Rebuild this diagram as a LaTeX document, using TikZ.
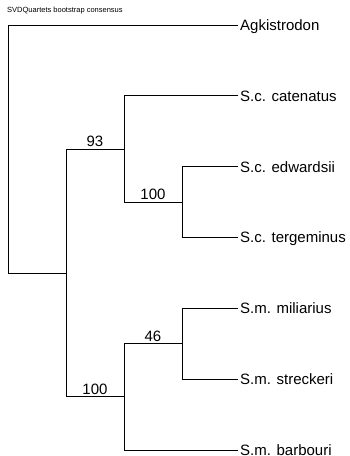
\documentclass[tikz,border=0pt]{standalone}
\usepackage{fontspec}
\setmainfont{Liberation Sans}
\usetikzlibrary{calc}
\begin{document}
\begin{tikzpicture}[x=1pt,y=-1pt,
  branch/.style={draw=black,line width=0.9pt,line cap=rect},
  leaf/.style={anchor=west,inner xsep=2pt,inner ysep=0pt,font=\fontsize{15}{18}\selectfont,text height=10.7pt,text depth=0pt},
  bs/.style={anchor=south,inner sep=0pt,yshift=2pt,font=\fontsize{15}{18}\selectfont},
  title/.style={anchor=base west,inner sep=0pt,font=\fontsize{7.5}{9}\selectfont}]
\useasboundingbox (0,0) rectangle (350,456);
\node[title] (ttl) at (7,12) {SVDQuartets bootstrap consensus};
% leaves
\node[leaf] (agk) at (238,25) {Agkistrodon};
\node[leaf] (cat) at (238,95.8) {S.c. catenatus};
\node[leaf] (edw) at (238,166.7) {S.c. edwardsii};
\node[leaf] (ter) at (238,237.5) {S.c. tergeminus};
\node[leaf] (mil) at (238,308.3) {S.m. miliarius};
\node[leaf] (str) at (238,379.2) {S.m. streckeri};
\node[leaf] (bar) at (238,450) {S.m. barbouri};
% internal nodes
\coordinate (n1) at (182,202.1);
\coordinate (n2) at (124,149);
\coordinate (n3) at (182,343.75);
\coordinate (n4) at (124,396.9);
\coordinate (n5) at (66,273);
\coordinate (root) at (8,149);
% branches
\draw[branch] (root) |- (agk.west);
\draw[branch] (root) |- (n5);
\draw[branch] (n5) |- (n2);
\draw[branch] (n5) |- (n4);
\draw[branch] (n2) |- (cat.west);
\draw[branch] (n2) |- (n1);
\draw[branch] (n1) |- (edw.west);
\draw[branch] (n1) |- (ter.west);
\draw[branch] (n4) |- (n3);
\draw[branch] (n4) |- (bar.west);
\draw[branch] (n3) |- (mil.west);
\draw[branch] (n3) |- (str.west);
% bootstrap labels
\node[bs] (b93) at ($(n5 |- n2)!0.5!(n2)$) {93};
\node[bs] (b100a) at ($(n2 |- n1)!0.5!(n1)$) {100};
\node[bs] (b100b) at ($(n5 |- n4)!0.5!(n4)$) {100};
\node[bs] (b46) at ($(n4 |- n3)!0.5!(n3)$) {46};
\end{tikzpicture}
\end{document}
